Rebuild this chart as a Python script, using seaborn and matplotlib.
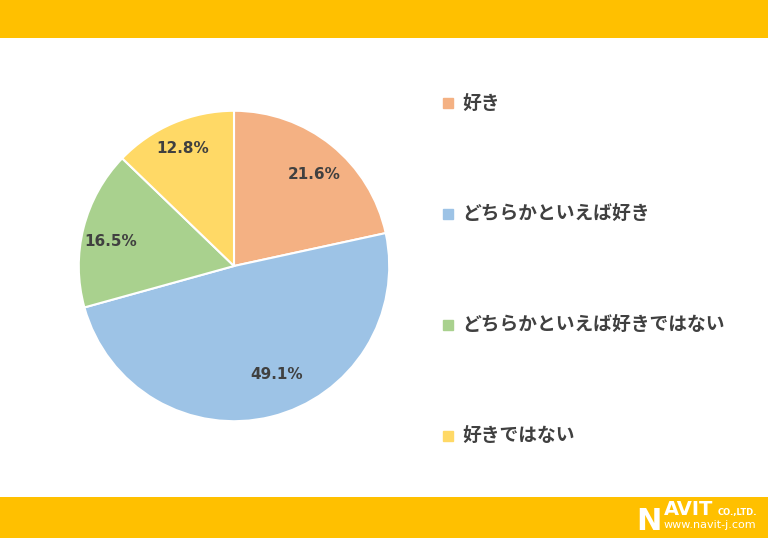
import matplotlib
matplotlib.use("Agg")
import matplotlib.pyplot as plt
import seaborn as sns
from matplotlib.lines import Line2D
from matplotlib.patches import Rectangle

# data
labels = ["好き", "どちらかといえば好き", "どちらかといえば好きではない", "好きではない"]
values = [21.6, 49.1, 16.5, 12.8]
colors = ["#F4B183", "#9DC3E6", "#A9D18E", "#FFD966"]
# where the percent labels sit (pie units, like Excel's "best fit")
label_pos = [(0.515, 0.59), (0.275, -0.70), (-0.795, 0.155), (-0.33, 0.755)]

sns.set_theme(style="white")
plt.rcParams['font.family'] = ['Noto Sans CJK JP', 'DejaVu Sans']

fig = plt.figure(figsize=(7.68, 5.38), dpi=100)
fig.patch.set_facecolor("white")

# orange bands top and bottom
band = "#FFC000"
fig.patches.append(Rectangle((0, 1 - 38 / 538), 1, 38 / 538, transform=fig.transFigure,
                             facecolor=band, edgecolor="none", zorder=0))
fig.patches.append(Rectangle((0, 0), 1, 41 / 538, transform=fig.transFigure,
                             facecolor=band, edgecolor="none", zorder=0))

# pie
cx, cy, r = 234 / 768, 1 - 266 / 538, 156
ax = fig.add_axes([cx - r / 768, cy - r / 538, 2 * r / 768, 2 * r / 538])
wedges, texts, autotexts = ax.pie(
    values, colors=colors, startangle=90, counterclock=False,
    autopct="%.1f%%", pctdistance=0.79,
    wedgeprops=dict(edgecolor="white", linewidth=1.5),
    textprops=dict(color="#404040", fontsize=11, fontweight="bold", family="DejaVu Sans"),
)
for t, p in zip(autotexts, label_pos):
    t.set_position(p)
ax.set_xlim(-1.005, 1.005)
ax.set_ylim(-1.005, 1.005)
ax.axis("off")

# legend
handles = [Line2D([0], [0], marker="s", linestyle="none", markersize=7,
                  markerfacecolor=c, markeredgecolor=c) for c in colors]
fig.legend(handles, labels, loc="upper left", bbox_to_anchor=(435 / 768, 1 - 87 / 538),
           frameon=False, prop=dict(size=13.5, weight="bold"), labelcolor="#404040",
           labelspacing=4.9, handlelength=0.6, handletextpad=0.45, borderaxespad=0)

# logo
fig.text(636 / 768, 1 - 530 / 538, "N", color="white", fontsize=22, fontweight="bold",
         family="DejaVu Sans", va="baseline")
fig.text(664 / 768, 1 - 515 / 538, "AVIT", color="white", fontsize=14, fontweight="bold",
         family="DejaVu Sans", va="baseline")
fig.text(718 / 768, 1 - 515 / 538, "CO.,LTD.", color="white", fontsize=6, fontweight="bold",
         family="DejaVu Sans", va="baseline")
fig.text(664 / 768, 1 - 528 / 538, "www.navit-j.com", color="white", fontsize=8,
         family="DejaVu Sans", va="baseline")

fig.savefig("out.png", dpi=100)
